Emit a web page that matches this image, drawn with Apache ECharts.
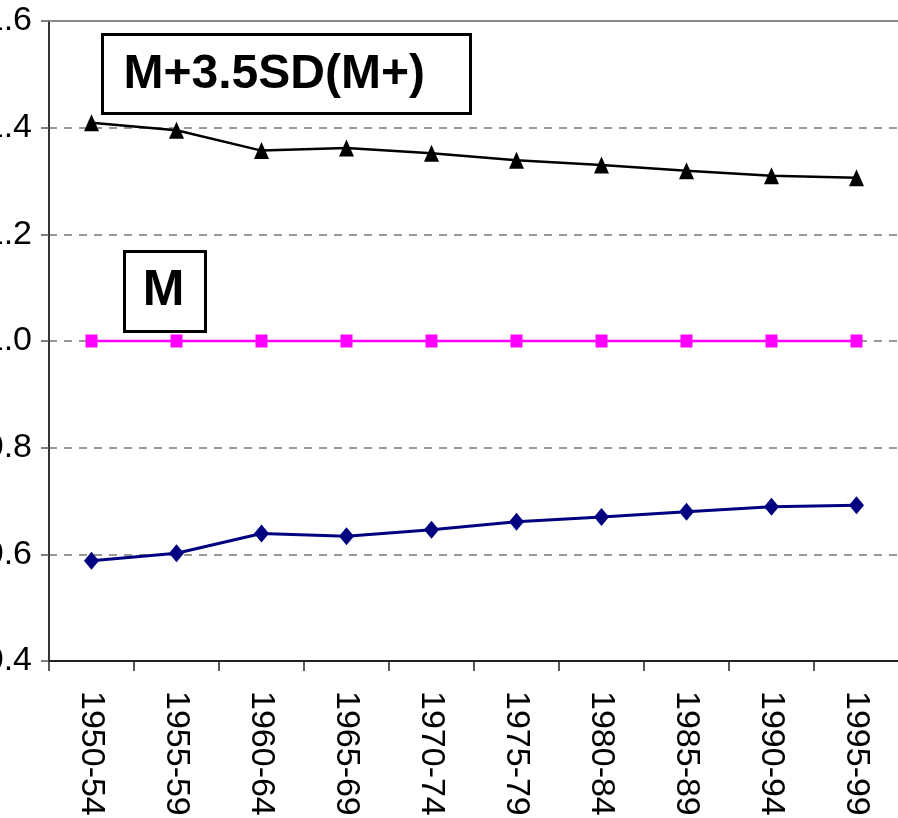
<!DOCTYPE html>
<html>
<head>
<meta charset="utf-8">
<script src="https://cdn.jsdelivr.net/npm/echarts@6/dist/echarts.min.js"></script>
<style>
html,body{margin:0;padding:0;background:#fff;}
#chart{width:898px;height:818px;}
</style>
</head>
<body>
<div id="chart"></div>
<script>
var categories = ['1950-54','1955-59','1960-64','1965-69','1970-74','1975-79','1980-84','1985-89','1990-94','1995-99'];
var upperValues = [1.409,1.395,1.357,1.362,1.352,1.339,1.330,1.319,1.310,1.306];
var meanValues = [1.0,1.0,1.0,1.0,1.0,1.0,1.0,1.0,1.0,1.0];
var lowerValues = [0.588,0.602,0.639,0.634,0.646,0.661,0.670,0.680,0.689,0.692];
var yTicks = {min:0.4, max:1.6, interval:0.2};
var labelUpper = 'M+3.5SD(M+)';
var labelMean = 'M';

var FONT = '"Liberation Sans", Arial, sans-serif';
var chart = echarts.init(document.getElementById('chart'));
chart.setOption({
  animation:false,
  backgroundColor:'#ffffff',
  grid:{left:49, top:21, width:850, height:640, containLabel:false, outerBoundsMode:'none'},
  xAxis:[{
    type:'category', data:categories, boundaryGap:true, position:'bottom',
    axisLine:{show:true, lineStyle:{color:'#222', width:2}},
    axisTick:{show:true, length:10, lineStyle:{color:'#222', width:1.5}},
    axisLabel:{rotate:-90, margin:30, color:'#000', fontSize:34, fontFamily:FONT, interval:0},
    splitLine:{show:false}
  },{
    type:'category', data:categories, position:'top',
    axisLine:{show:true, lineStyle:{color:'#8a8a8a', width:2}},
    axisTick:{show:false}, axisLabel:{show:false}, splitLine:{show:false}
  }],
  yAxis:{
    type:'value', min:yTicks.min, max:yTicks.max, interval:yTicks.interval,
    axisLine:{show:true, lineStyle:{color:'#333', width:2}},
    axisTick:{show:true, length:8, lineStyle:{color:'#555', width:1.5}},
    axisLabel:{margin:17, color:'#000', fontSize:34, fontFamily:FONT,
      formatter:function(v){return v.toFixed(1);}},
    splitLine:{show:true, lineStyle:{color:'#777', width:1.5, type:[8,7]}}
  },
  series:[
    {name:'upper', type:'line', data:upperValues, symbol:'triangle', symbolSize:[15,17],
     lineStyle:{color:'#000', width:2.5}, itemStyle:{color:'#000'}},
    {name:'mean', type:'line', data:meanValues, symbol:'rect', symbolSize:[12,13],
     lineStyle:{color:'#ff00ff', width:2.5}, itemStyle:{color:'#ff00ff'}},
    {name:'lower', type:'line', data:lowerValues, symbol:'diamond', symbolSize:[15,18],
     lineStyle:{color:'#000080', width:3}, itemStyle:{color:'#000080'}}
  ],
  graphic:[
    {type:'group', left:101, top:33, children:[
      {type:'rect', shape:{x:0,y:0,width:368,height:79}, style:{fill:'#fff', stroke:'#000', lineWidth:3}},
      {type:'text', x:21, y:40, style:{text:labelUpper, font:'bold 48px '+FONT, fill:'#000', align:'left', verticalAlign:'middle'}}
    ]},
    {type:'group', left:123, top:250, children:[
      {type:'rect', shape:{x:0,y:0,width:81,height:80}, style:{fill:'#fff', stroke:'#000', lineWidth:3}},
      {type:'text', x:39, y:40, style:{text:labelMean, font:'bold 50px '+FONT, fill:'#000', align:'center', verticalAlign:'middle'}}
    ]}
  ]
});
</script>
</body>
</html>
